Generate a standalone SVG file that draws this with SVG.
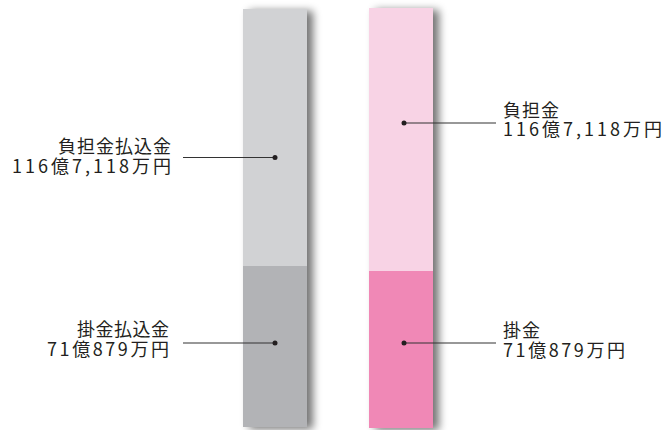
<svg xmlns="http://www.w3.org/2000/svg" width="666" height="430" viewBox="0 0 666 430">
<defs>
<filter id="sh" x="-20%" y="-5%" width="160%" height="115%">
<feGaussianBlur in="SourceAlpha" stdDeviation="4"/>
<feOffset dx="6" dy="2" result="b"/>
<feComponentTransfer><feFuncA type="linear" slope="0.55"/></feComponentTransfer>
<feMerge><feMergeNode/><feMergeNode in="SourceGraphic"/></feMerge>
</filter>
<style>
text{font-family:"Noto Sans CJK JP","Noto Sans",sans-serif;font-size:18px;fill:#231f20}
.ln{stroke:#333;stroke-width:1.2;fill:none}
.dot{fill:#231f20}
</style>
</defs>
<rect width="666" height="430" fill="#fff"/>
<g id="bar-left" filter="url(#sh)">
<rect x="243" y="9" width="64" height="257" fill="#d1d2d4"/>
<rect x="243" y="266" width="64" height="161" fill="#b2b3b6"/>
</g>
<g id="bar-right" filter="url(#sh)">
<rect x="369" y="8" width="64" height="263" fill="#f8d3e5"/>
<rect x="369" y="271" width="64" height="157" fill="#f088b6"/>
</g>
<g id="connectors">
<line class="ln" x1="183" y1="157.5" x2="275" y2="157.5"/>
<circle class="dot" cx="275" cy="157.5" r="2.5"/>
<line class="ln" x1="183" y1="343" x2="275" y2="343"/>
<circle class="dot" cx="275" cy="343" r="2.5"/>
<line class="ln" x1="404" y1="123" x2="496" y2="123"/>
<circle class="dot" cx="404" cy="123" r="2.5"/>
<line class="ln" x1="404" y1="343" x2="496" y2="343"/>
<circle class="dot" cx="404" cy="343" r="2.5"/>
</g>
<g id="label-left-top">
<text x="58" y="153" textLength="113" lengthAdjust="spacing">負担金払込金</text>
<text x="12" y="173" textLength="159" lengthAdjust="spacing">116億7,118万円</text>
</g>
<g id="label-left-bottom">
<text x="77" y="336" textLength="92" lengthAdjust="spacing">掛金払込金</text>
<text x="47" y="356" textLength="122" lengthAdjust="spacing">71億879万円</text>
</g>
<g id="label-right-top">
<text x="503" y="117" textLength="56" lengthAdjust="spacing">負担金</text>
<text x="503" y="136" textLength="159" lengthAdjust="spacing">116億7,118万円</text>
</g>
<g id="label-right-bottom">
<text x="503" y="337" textLength="37" lengthAdjust="spacing">掛金</text>
<text x="503" y="357" textLength="122" lengthAdjust="spacing">71億879万円</text>
</g>
</svg>
